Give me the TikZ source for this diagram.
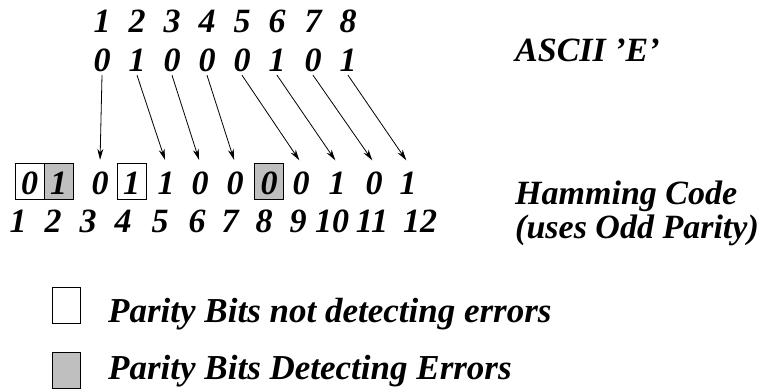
\documentclass[tikz,border=0pt]{standalone}
\usepackage{fontspec}
\setmainfont{Liberation Serif}
\usetikzlibrary{arrows.meta}
\begin{document}
\begin{tikzpicture}[x=1pt,y=-1pt,
  txt/.style={font=\fontsize{34}{40}\selectfont\bfseries\itshape, inner sep=0},
  big/.style={txt, font=\fontsize{35}{40}\selectfont\bfseries\itshape},
  abit/.style={txt, text height=24pt, text depth=3pt},
  hbit/.style={txt, minimum width=29pt, text height=32pt, text depth=4pt},
  pbox/.style={hbit, draw, line width=0.8pt},
  ebox/.style={pbox, fill=gray!50},
  lbox/.style={draw, line width=0.8pt, minimum width=28pt, minimum height=36pt, inner sep=0},
  mv/.style={-{Stealth[length=11pt,width=6pt]}, line width=0.8pt, shorten >=3pt}]
\useasboundingbox (0,0) rectangle (766,390);
\node[txt, anchor=base] (p1) at (102,33){1};
\node[txt, anchor=base] (p2) at (137,33){2};
\node[txt, anchor=base] (p3) at (172,33){3};
\node[txt, anchor=base] (p4) at (207,33){4};
\node[txt, anchor=base] (p5) at (242,33){5};
\node[txt, anchor=base] (p6) at (277,33){6};
\node[txt, anchor=base] (p7) at (313,33){7};
\node[txt, anchor=base] (p8) at (348,33){8};
\node[abit, anchor=base] (a1) at (102,72){0};
\node[abit, anchor=base] (a2) at (137,72){1};
\node[abit, anchor=base] (a3) at (172,72){0};
\node[abit, anchor=base] (a4) at (207,72){0};
\node[abit, anchor=base] (a5) at (242,72){0};
\node[abit, anchor=base] (a6) at (277,72){1};
\node[abit, anchor=base] (a7) at (313,72){0};
\node[abit, anchor=base] (a8) at (348,72){1};
\node[txt, anchor=base west] (ascii) at (515,62){ASCII 'E'};
\node[pbox] (h1) at (29.5,181){0};
\node[ebox] (h2) at (58.5,181){1};
\node[hbit] (h3) at (100,181){0};
\node[pbox] (h4) at (131.5,181){1};
\node[hbit] (h5) at (166,181){1};
\node[hbit] (h6) at (200,181){0};
\node[hbit] (h7) at (235,181){0};
\node[ebox] (h8) at (269,181){0};
\node[hbit] (h9) at (301,181){0};
\node[hbit] (h10) at (337,181){1};
\node[hbit] (h11) at (374,181){0};
\node[hbit] (h12) at (408,181){1};
\draw[mv](a1.south) -- (h3.north);
\draw[mv](a2.south) -- (h5.north);
\draw[mv](a3.south) -- (h6.north);
\draw[mv](a4.south) -- (h7.north);
\draw[mv](a5.south) -- (h9.north);
\draw[mv](a6.south) -- (h10.north);
\draw[mv](a7.south) -- (h11.north);
\draw[mv](a8.south) -- (h12.north);
\node[txt, anchor=base] (n1) at (18,233){1};
\node[txt, anchor=base] (n2) at (53,233){2};
\node[txt, anchor=base] (n3) at (88,233){3};
\node[txt, anchor=base] (n4) at (123,233){4};
\node[txt, anchor=base] (n5) at (160,233){5};
\node[txt, anchor=base] (n6) at (197,233){6};
\node[txt, anchor=base] (n7) at (230,233){7};
\node[txt, anchor=base] (n8) at (264,233){8};
\node[txt, anchor=base] (n9) at (298,233){9};
\node[txt, anchor=base] (n10) at (332,233){10};
\node[txt, anchor=base] (n11) at (372,233){11};
\node[txt, anchor=base] (n12) at (420,233){12};
\node[txt, anchor=base west] (hamming) at (515,205){Hamming Code};
\node[txt, anchor=base west] (odd) at (515,239){(uses Odd Parity)};
\node[lbox] (okbox) at (66,305){};
\node[lbox, fill=gray!50] (errbox) at (66,370){};
\node[big, anchor=base west] (oktext) at (108,322){Parity Bits not detecting errors};
\node[big, anchor=base west] (errtext) at (108,379){Parity Bits Detecting Errors};
\end{tikzpicture}
\end{document}
